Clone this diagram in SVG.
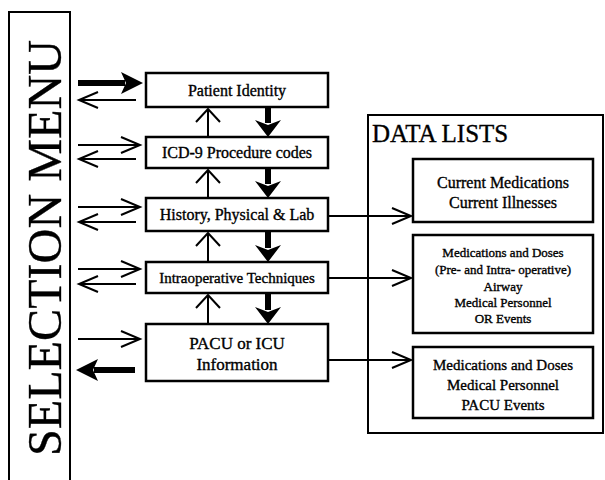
<svg xmlns="http://www.w3.org/2000/svg" width="605" height="480" viewBox="0 0 605 480">
<style>
.box{fill:#fff;stroke:#000;stroke-width:2.5}
.frame{fill:none;stroke:#000;stroke-width:2}
.t{font-family:"Liberation Serif","Times New Roman",serif;fill:#000;stroke:#000;stroke-width:0.35;text-anchor:middle}
.thin{stroke:#000;stroke-width:2;fill:none}
.thick{stroke:#000;stroke-width:6;fill:none}
.open{marker-end:url(#openHead)}
.up{marker-end:url(#upHead)}
</style>
<defs>
<marker id="openHead" viewBox="0 0 20 18" refX="19" refY="9" markerWidth="20" markerHeight="18" markerUnits="userSpaceOnUse" orient="auto" overflow="visible">
<path d="M0,1 L19,9 L0,17" fill="none" stroke="#000" stroke-width="2"/>
</marker>
<marker id="upHead" viewBox="0 0 14 26" refX="13" refY="13" markerWidth="14" markerHeight="26" markerUnits="userSpaceOnUse" orient="auto" overflow="visible">
<path d="M0,1 L13,13 L0,25" fill="none" stroke="#000" stroke-width="2"/>
</marker>
<marker id="thickHead" viewBox="0 0 22 22" refX="4" refY="11" markerWidth="22" markerHeight="22" markerUnits="userSpaceOnUse" orient="auto" overflow="visible">
<path d="M0,0 L22,11 L0,22 L5,11 Z" fill="#000"/>
</marker>
<marker id="downHead" viewBox="0 0 17 26" refX="3" refY="13" markerWidth="17" markerHeight="26" markerUnits="userSpaceOnUse" orient="auto" overflow="visible">
<path d="M0,0 L17,13 L0,26 L5,13 Z" fill="#000"/>
</marker>
</defs>

<g id="selection-menu">
<rect class="frame" x="9" y="12" width="61" height="480" stroke-width="2.5"/>
<text class="t" transform="translate(61,456) rotate(-90)" style="text-anchor:start" font-size="48" textLength="416" lengthAdjust="spacingAndGlyphs">SELECTION MENU</text>
</g>

<g id="patient-identity">
<rect class="box" x="146" y="73" width="182" height="34"/>
<text class="t" x="237" y="96" font-size="16">Patient Identity</text>
</g>
<g id="icd9">
<rect class="box" x="146" y="137" width="182" height="31"/>
<text class="t" x="237" y="158" font-size="16">ICD-9 Procedure codes</text>
</g>
<g id="history">
<rect class="box" x="146" y="198" width="182" height="33"/>
<text class="t" x="237" y="220" font-size="16">History, Physical &amp; Lab</text>
</g>
<g id="intraop">
<rect class="box" x="146" y="262" width="182" height="31"/>
<text class="t" x="237" y="283" font-size="15">Intraoperative Techniques</text>
</g>
<g id="pacu">
<rect class="box" x="146" y="324" width="182" height="57"/>
<text class="t" x="237" y="349" font-size="17">PACU or ICU</text>
<text class="t" x="237" y="370" font-size="17">Information</text>
</g>

<g id="data-lists">
<rect class="frame" x="368" y="115" width="235" height="318"/>
<text class="t" x="372" y="142" font-size="25" style="text-anchor:start">DATA LISTS</text>
</g>
<g id="current-meds">
<rect class="box" x="413" y="159" width="180" height="63"/>
<text class="t" x="503" y="188" font-size="16">Current Medications</text>
<text class="t" x="503" y="208" font-size="16">Current Illnesses</text>
</g>
<g id="intraop-data">
<rect class="box" x="413" y="235" width="180" height="98"/>
<text class="t" x="503" y="257" font-size="13">Medications and Doses</text>
<text class="t" x="503" y="274" font-size="13">(Pre- and Intra- operative)</text>
<text class="t" x="503" y="291" font-size="13">Airway</text>
<text class="t" x="503" y="307" font-size="13">Medical Personnel</text>
<text class="t" x="503" y="323" font-size="13">OR Events</text>
</g>
<g id="pacu-data">
<rect class="box" x="413" y="347" width="180" height="71"/>
<text class="t" x="503" y="370" font-size="15">Medications and Doses</text>
<text class="t" x="503" y="390" font-size="15">Medical Personnel</text>
<text class="t" x="503" y="410" font-size="15">PACU Events</text>
</g>

<g id="connectors">
<!-- selection menu to/from boxes -->
<line class="thick" x1="78" y1="83" x2="125" y2="83" marker-end="url(#thickHead)"/>
<line class="thin open" x1="136" y1="100" x2="79" y2="100"/>
<line class="thin open" x1="78" y1="145" x2="140" y2="145"/>
<line class="thin open" x1="136" y1="159" x2="79" y2="159"/>
<line class="thin open" x1="78" y1="207" x2="140" y2="207"/>
<line class="thin open" x1="136" y1="222" x2="79" y2="222"/>
<line class="thin open" x1="78" y1="269" x2="140" y2="269"/>
<line class="thin open" x1="136" y1="284" x2="79" y2="284"/>
<line class="thin open" x1="78" y1="339" x2="140" y2="339"/>
<line class="thick" x1="135" y1="370" x2="94" y2="370" marker-end="url(#thickHead)"/>
<!-- up arrows -->
<line class="thin up" x1="208" y1="137" x2="208" y2="109"/>
<line class="thin up" x1="208" y1="198" x2="208" y2="170"/>
<line class="thin up" x1="208" y1="262" x2="208" y2="233"/>
<line class="thin up" x1="208" y1="324" x2="208" y2="295"/>
<!-- down arrows -->
<line class="thick" x1="268" y1="107" x2="268" y2="123" marker-end="url(#downHead)"/>
<line class="thick" x1="268" y1="168" x2="268" y2="184" marker-end="url(#downHead)"/>
<line class="thick" x1="268" y1="231" x2="268" y2="248" marker-end="url(#downHead)"/>
<line class="thick" x1="268" y1="293" x2="268" y2="310" marker-end="url(#downHead)"/>
<!-- to data lists -->
<line class="thin open" x1="328" y1="216" x2="411" y2="216"/>
<line class="thin open" x1="328" y1="278" x2="411" y2="278"/>
<line class="thin open" x1="328" y1="360" x2="411" y2="360"/>
</g>
</svg>
